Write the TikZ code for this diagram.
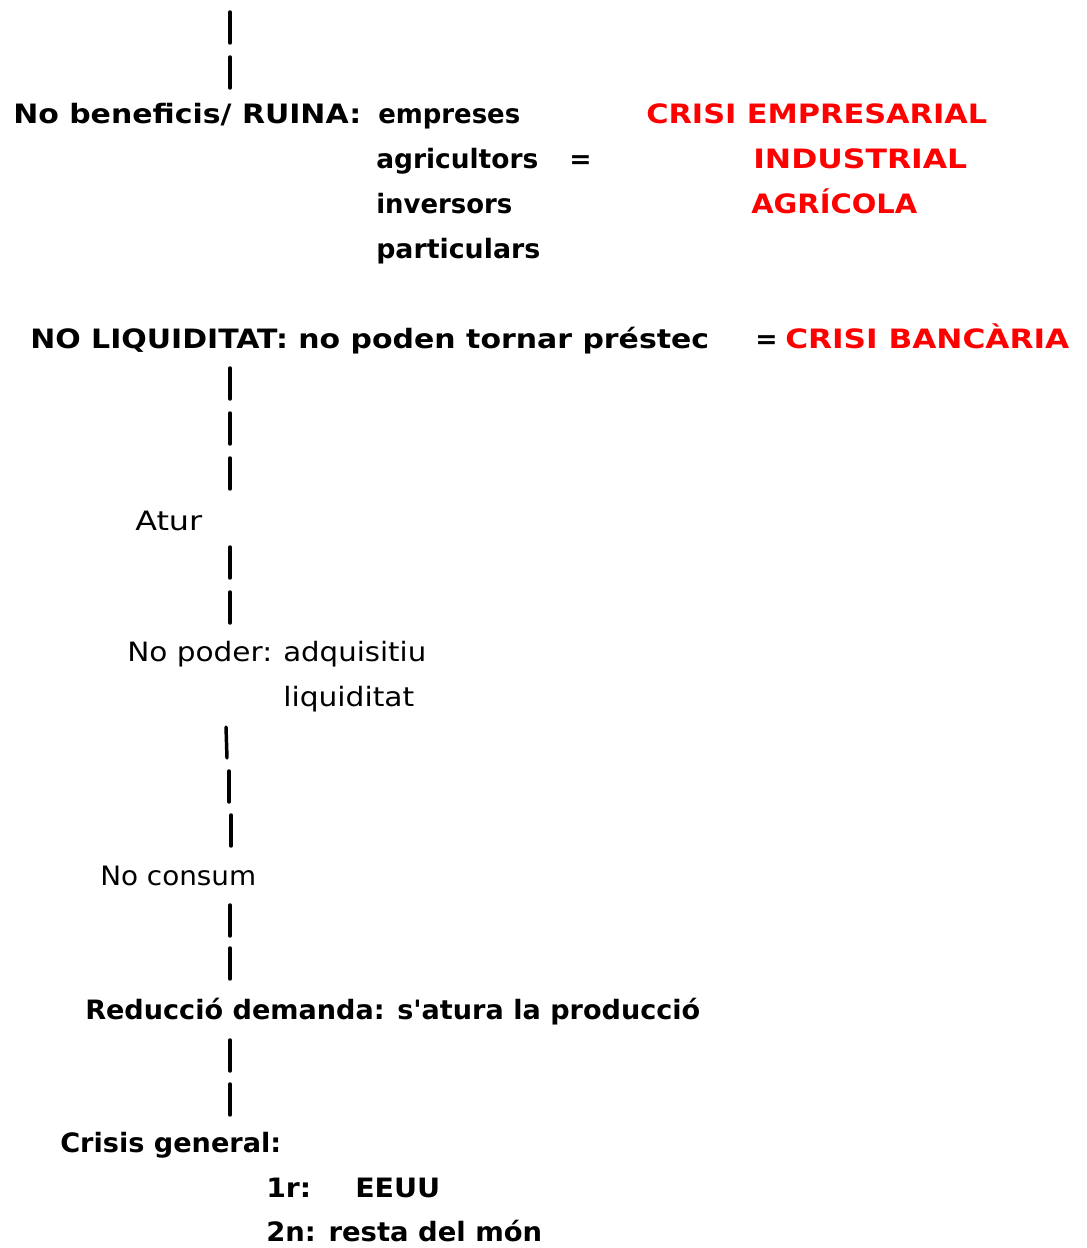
\documentclass[tikz,border=0pt]{standalone}
\usepackage{fontspec}
\usepackage{graphicx}
\setmainfont{DejaVu Sans}[Ligatures=TeXOff]
\newcommand\fw[2]{\resizebox{#1pt}{\height}{#2}}
\begin{document}
\begin{tikzpicture}[x=0.75pt,y=-0.75pt,
  txt/.style={anchor=base west,inner sep=0pt,font=\fontsize{20}{24}\selectfont},
  btxt/.style={txt,font=\fontsize{20}{24}\selectfont\bfseries},
  rtxt/.style={btxt,text=red},
  bar/.style={line width=2.6pt,line cap=round}]
\useasboundingbox (0,0) rectangle (1087,1248);
% first block
\node[btxt] (ruina) at (13,124) {\fw{261}{No beneficis/ RUINA:}};
\node[btxt] (empreses) at (378,124) {\fw{106.5}{empreses}};
\node[btxt] (agric) at (376,169) {\fw{121.5}{agricultors}};
\node[btxt] (eqa) at (569,169) {=};
\node[btxt] (invers) at (376,214) {\fw{102}{inversors}};
\node[btxt] (partic) at (376,258) {\fw{123}{particulars}};
\node[rtxt] (crisiemp) at (646,124) {\fw{255.75}{CRISI EMPRESARIAL}};
\node[rtxt] (indus) at (753,169) {\fw{160.5}{INDUSTRIAL}};
\node[rtxt] (agricola) at (751,214) {\fw{124.5}{AGRÍCOLA}};
% second block
\node[btxt] (noliq) at (30,348) {\fw{509.25}{NO LIQUIDITAT: no poden tornar préstec}};
\node[btxt] (eqb) at (755,348) {=};
\node[rtxt] (bancaria) at (785,348) {\fw{213}{CRISI BANCÀRIA}};
% chain
\node[txt] (atur) at (135,530) {\fw{50.25}{Atur}};
\node[txt] (nopoder) at (127,661) {\fw{108.75}{No poder:}};
\node[txt] (adq) at (283,661) {\fw{107.25}{adquisitiu}};
\node[txt] (liq) at (283,706) {\fw{98.25}{liquiditat}};
\node[txt] (noconsum) at (100,885) {\fw{117}{No consum}};
\node[btxt] (reduccio) at (85,1019) {\fw{461.25}{Reducció demanda: s'atura la producció}};
\node[btxt] (crisis) at (60,1152) {\fw{165.75}{Crisis general:}};
\node[btxt] (primer) at (266,1197) {\fw{33.75}{1r:}};
\node[btxt] (eeuu) at (355,1197) {\fw{63.75}{EEUU}};
\node[btxt] (segon) at (266,1241) {\fw{207}{2n: resta del món}};
% dashes of the vertical chain
\foreach \n/\xa/\ya/\xb/\yb in {a/230/12/230/43, b/230/57/230/88,
  c/230/368/230/399, d/230/413/230/444, e/230/458/230/489,
  f/230/547/230/578, g/230/592/230/623,
  h/226/727/227/758, i/229/771/229/802, j/231/815/231/846,
  k/230/905/230/936, l/230/948/230/979,
  m/230/1040/230/1071, n/230/1084/230/1115}{
  \coordinate (\n1) at (\xa,\ya);
  \coordinate (\n2) at (\xb,\yb);
  \draw[bar] (\n1) -- (\n2);
}
\end{tikzpicture}
\end{document}
